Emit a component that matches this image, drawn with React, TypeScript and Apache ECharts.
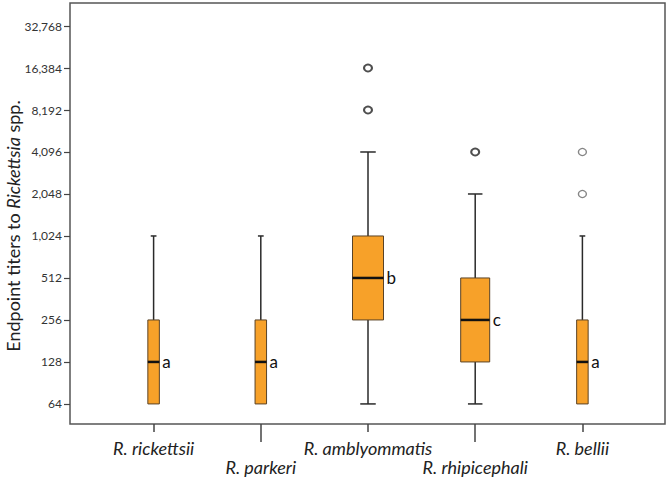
import { useEffect, useRef } from 'react';
import * as echarts from 'echarts';

const categories = ['R. rickettsii', 'R. parkeri', 'R. amblyommatis', 'R. rhipicephali', 'R. bellii'];
const whiskerLow = [64, 64, 64, 64, 64];
const quartile1 = [64, 64, 256, 128, 64];
const medians = [128, 128, 512, 256, 128];
const quartile3 = [256, 256, 1024, 512, 256];
const whiskerHigh = [1024, 1024, 4096, 2048, 1024];
const groupLetters = ['a', 'a', 'b', 'c', 'a'];
const outlierGroups = [2, 2, 3, 4, 4];
const outlierValues = [8192, 16384, 4096, 2048, 4096];
const yTicks = [64, 128, 256, 512, 1024, 2048, 4096, 8192, 16384, 32768];

const Y_MIN = 45.95;
const Y_MAX = 47920;
const BOX_WIDTHS = [11.5, 11.5, 31, 29, 11.5];
const FONT = 'Lato, "Open Sans", sans-serif';

export default function App() {
  const ref = useRef<HTMLDivElement>(null);
  useEffect(() => {
    if (!ref.current) return;
    const chart = echarts.init(ref.current, undefined, { renderer: 'svg' });
    const boxData = categories.map((_, i) => [i, whiskerLow[i], quartile1[i], medians[i], quartile3[i], whiskerHigh[i]]);
    const outlierData = outlierValues.map((v, k) => ({
      value: [outlierGroups[k], v],
      itemStyle: outlierGroups[k] === 4
        ? { color: '#fff', borderColor: '#666', borderWidth: 1.3 }
        : { color: '#fff', borderColor: '#222', borderWidth: 2 },
    }));
    const labelBase = {
      fontFamily: FONT,
      fontStyle: 'italic',
      fontSize: 18,
      color: '#222',
    };
    const option: any = {
      animation: false,
      backgroundColor: '#fff',
      grid: [
        { left: 70, right: 5, top: 3, bottom: 57, show: true, borderColor: '#555', borderWidth: 1.5, backgroundColor: 'transparent' },
        { left: 100, right: 34, top: 3, bottom: 57 },
      ],
      xAxis: [
        { gridIndex: 0, type: 'value', show: false, min: 0, max: 1 },
        {
          gridIndex: 1, type: 'category', data: categories, position: 'bottom',
          axisLine: { show: false },
          axisTick: { show: true, alignWithLabel: true, length: 8, interval: (i: number) => i % 2 === 0, lineStyle: { color: '#444', width: 1.5 } },
          axisLabel: { ...labelBase, interval: (i: number) => i % 2 === 0, margin: 15 },
        },
        {
          gridIndex: 1, type: 'category', data: categories, position: 'bottom',
          axisLine: { show: false },
          axisTick: { show: true, alignWithLabel: true, length: 18, interval: (i: number) => i % 2 === 1, lineStyle: { color: '#444', width: 1.5 } },
          axisLabel: { ...labelBase, interval: (i: number) => i % 2 === 1, margin: 34 },
        },
      ],
      yAxis: [
        {
          gridIndex: 0, type: 'log', logBase: 2, min: Y_MIN, max: Y_MAX,
          axisLine: { show: false },
          splitLine: { show: false },
          axisTick: { show: true, length: 6, customValues: yTicks, lineStyle: { color: '#444', width: 1.2 } },
          axisLabel: {
            customValues: yTicks, margin: 8, fontFamily: FONT, fontSize: 12, color: '#333',
            formatter: (v: number) => Math.round(v).toLocaleString('en-US'),
          },
        },
        { gridIndex: 1, type: 'log', logBase: 2, min: Y_MIN, max: Y_MAX, show: false, splitLine: { show: false } },
      ],
      graphic: [
        {
          type: 'text', x: 13, y: 226, rotation: Math.PI / 2,
          style: {
            text: 'Endpoint titers to {i|Rickettsia} spp.',
            fontFamily: FONT, fontSize: 18, fill: '#222', align: 'center', verticalAlign: 'middle',
            rich: { i: { fontFamily: FONT, fontSize: 18, fontStyle: 'italic', fill: '#222' } },
          },
        },
      ],
      series: [
        {
          type: 'custom', xAxisIndex: 1, yAxisIndex: 1,
          data: boxData,
          encode: { x: 0, y: [1, 2, 3, 4, 5] },
          renderItem: (params: any, api: any) => {
            const i = api.value(0);
            const lo = api.coord([i, api.value(1)]);
            const q1 = api.coord([i, api.value(2)]);
            const md = api.coord([i, api.value(3)]);
            const q3 = api.coord([i, api.value(4)]);
            const hi = api.coord([i, api.value(5)]);
            const cx = lo[0];
            const w = BOX_WIDTHS[params.dataIndex];
            const cap = w / 2;
            const wStyle = { stroke: '#2a2a2a', lineWidth: 1.5 };
            const children: any[] = [];
            if (Math.abs(q1[1] - lo[1]) > 0.5) {
              children.push({ type: 'line', shape: { x1: cx, y1: q1[1], x2: cx, y2: lo[1] }, style: wStyle });
              children.push({ type: 'line', shape: { x1: cx - cap / 2, y1: lo[1], x2: cx + cap / 2, y2: lo[1] }, style: wStyle });
            }
            children.push({ type: 'line', shape: { x1: cx, y1: q3[1], x2: cx, y2: hi[1] }, style: wStyle });
            children.push({ type: 'line', shape: { x1: cx - cap / 2, y1: hi[1], x2: cx + cap / 2, y2: hi[1] }, style: wStyle });
            children.push({
              type: 'rect',
              shape: { x: cx - w / 2, y: q3[1], width: w, height: q1[1] - q3[1] },
              style: { fill: '#F7A129', stroke: '#5a4326', lineWidth: 1 },
            });
            children.push({ type: 'line', shape: { x1: cx - w / 2, y1: md[1], x2: cx + w / 2, y2: md[1] }, style: { stroke: '#111', lineWidth: 2.5 } });
            children.push({
              type: 'text', x: cx + w / 2 + 3, y: md[1],
              style: { text: groupLetters[params.dataIndex], fontFamily: FONT, fontSize: 17, fill: '#111', align: 'left', verticalAlign: 'middle' },
            });
            return { type: 'group', children };
          },
        },
        {
          type: 'scatter', xAxisIndex: 1, yAxisIndex: 1,
          symbol: 'circle', symbolSize: [8, 7],
          data: outlierData,
        },
      ],
    };
    chart.setOption(option);
    return () => chart.dispose();
  }, []);
  return <div ref={ref} style={{ position: 'fixed', left: 0, top: 0, width: 670, height: 481 }} />;
}
